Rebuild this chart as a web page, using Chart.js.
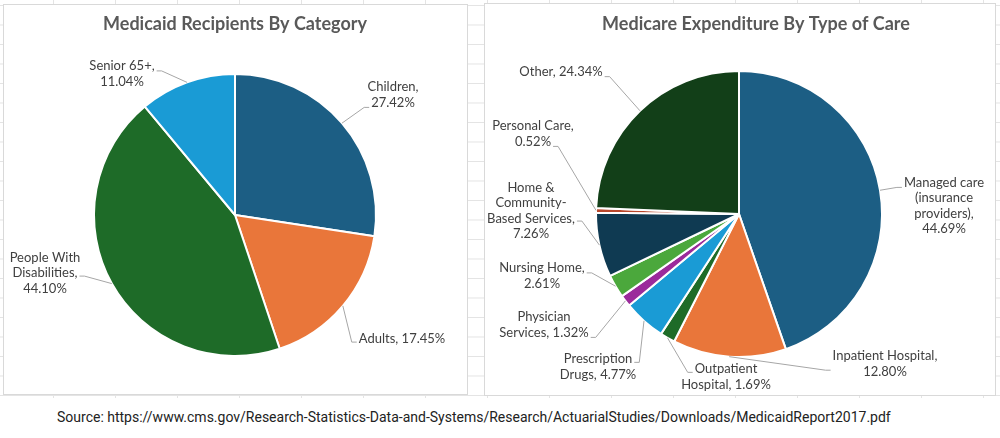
<!DOCTYPE html>
<html lang="en">
<head>
    <meta charset="UTF-8">
    <title>Medicaid Recipients / Medicare Expenditure</title>
    <script src="https://cdn.jsdelivr.net/npm/chart.js"></script>
    <style>
        body {
            margin: 0;
            width: 1000px;
            height: 438px;
            background: #fff;
            position: relative;
            overflow: hidden;
            font-family: Lato, sans-serif;
        }

        /* faint spreadsheet grid behind the two charts */
        .sheet {
            position: absolute;
            left: 0;
            top: 0;
            width: 1000px;
            height: 398px;
            background-image:
                linear-gradient(to right, #e4e4e4 1px, transparent 1px),
                linear-gradient(to bottom, #e4e4e4 1px, transparent 1px);
            background-size: 62px 19.5px;
            background-position: 53px 5px;
        }

        .panel {
            position: absolute;
            background: #fff;
            border: 1px solid #d9d9d9;
            box-sizing: border-box;
        }

        #leftPanel { left: 3px; top: 4px; width: 465px; height: 391px; }
        #rightPanel { left: 484px; top: 3px; width: 512px; height: 393px; }

        canvas { position: absolute; }
        #medicaidChart { left: 4px; top: 5px; }
        #medicareChart { left: 485px; top: 4px; }

        .source {
            position: absolute;
            top: 409px;
            left: 57px;
            font-family: Roboto, sans-serif;
            font-size: 14px;
            color: #222;
            white-space: nowrap;
        }
    </style>
</head>
<body>
    <div class="sheet"></div>
    <div class="panel" id="leftPanel"></div>
    <div class="panel" id="rightPanel"></div>
    <canvas id="medicaidChart" width="463" height="389"></canvas>
    <canvas id="medicareChart" width="510" height="390"></canvas>
    <div class="source">Source: https://www.cms.gov/Research-Statistics-Data-and-Systems/Research/ActuarialStudies/Downloads/MedicaidReport2017.pdf</div>

    <script>
        "use strict";

        // --- data: Medicaid recipients ---
        const recipientCategories = ['Children', 'Adults', 'People With Disabilities', 'Senior 65+'];
        const recipientShares = [27.42, 17.45, 44.10, 11.04];
        const recipientColors = ['#1c5e84', '#e9763a', '#1e6b28', '#1a9bd5'];

        // --- data: Medicare expenditure ---
        const careTypes = [
            'Managed care (insurance providers)', 'Inpatient Hospital', 'Outpatient Hospital',
            'Prescription Drugs', 'Physician Services', 'Nursing Home',
            'Home & Community-Based Services', 'Personal Care', 'Other'
        ];
        const careShares = [44.69, 12.80, 1.69, 4.77, 1.32, 2.61, 7.26, 0.52, 24.34];
        const careColors = ['#1c5e84', '#e9763a', '#1e6b28', '#1a9bd5', '#9b2a9b', '#4ba83c', '#0f3a52', '#b8462a', '#123f18'];

        // label layout: text lines ({v} = value), offset of the text block from the pie centre,
        // which side the leader leaves from and at which (fractional) line
        const recipientLabelLayout = [
            { lines: ['Children,', '{v}'], dx: 158, dy: -120, side: 'L', at: 1.3 },
            { lines: ['Adults, {v}'], dx: 167, dy: 124, side: 'L', at: 0.2 },
            { lines: ['People With', 'Disabilities,', '{v}'], dx: -190, dy: 58, side: 'R', at: 1.2 },
            { lines: ['Senior 65+,', '{v}'], dx: -113, dy: -141, side: 'R', at: 0.3 }
        ];
        const careLabelLayout = [
            { lines: ['Managed care', '(insurance', 'providers),', '{v}'], dx: 205, dy: -8, side: 'L', at: 0.3 },
            { lines: ['Inpatient Hospital,', '{v}'], dx: 146, dy: 150, side: 'L', at: 0.9 },
            { lines: ['Outpatient', 'Hospital, {v}'], dx: -13, dy: 163, side: 'L', at: 0.2 },
            { lines: ['Prescription', 'Drugs, {v}'], dx: -141, dy: 153, side: 'R', at: 0.2 },
            { lines: ['Physician', 'Services, {v}'], dx: -195, dy: 111, side: 'R', at: 1.3 },
            { lines: ['Nursing Home,', '{v}'], dx: -197, dy: 62, side: 'R', at: 0.3 },
            { lines: ['Home &', 'Community-', 'Based Services,', '{v}'], dx: -208, dy: -3, side: 'R', at: 2.15 },
            { lines: ['Personal Care,', '{v}'], dx: -206, dy: -80, side: 'R', at: 1.3 },
            { lines: ['Other, {v}'], dx: -178, dy: -142, side: 'R', at: 0.3 }
        ];

        // draws the chart title plus the outside labels with their leader lines
        const pieLabels = {
            id: 'pieLabels',
            afterDatasetsDraw(chart, args, opts) {
                const ctx = chart.ctx;
                const meta = chart.getDatasetMeta(0);
                const values = chart.data.datasets[0].data;
                const lh = 15.5;
                ctx.save();

                // title (Excel centres it on the plot panel, not on the pie)
                ctx.font = 'bold 18px Lato';
                ctx.fillStyle = '#595959';
                ctx.textAlign = 'center';
                ctx.textBaseline = 'middle';
                ctx.fillText(opts.title, meta.data[0].x + opts.titleDx, opts.titleY);

                ctx.font = '13px Lato';
                meta.data.forEach((arc, i) => {
                    const lay = opts.layout[i];
                    const lines = lay.lines.map(l => l.replace('{v}', values[i].toFixed(2) + '%'));
                    const cx = arc.x + lay.dx;
                    const cy = arc.y + lay.dy;
                    const top = cy - (lines.length - 1) / 2 * lh;

                    ctx.fillStyle = '#404040';
                    lines.forEach((line, k) => ctx.fillText(line, cx, top + k * lh));

                    // leader line
                    const edgeLine = lines[Math.min(Math.floor(lay.at), lines.length - 1)];
                    const w = ctx.measureText(edgeLine).width;
                    const sy = top + lay.at * lh;
                    const dir = lay.side === 'L' ? -1 : 1;
                    const sx = cx + dir * (w / 2 + 2);
                    const mid = (arc.startAngle + arc.endAngle) / 2;
                    const ex = arc.x + Math.cos(mid) * arc.outerRadius;
                    const ey = arc.y + Math.sin(mid) * arc.outerRadius;
                    ctx.strokeStyle = '#a6a6a6';
                    ctx.lineWidth = 1;
                    ctx.beginPath();
                    ctx.moveTo(sx, sy);
                    ctx.lineTo(sx + dir * 5, sy);
                    ctx.lineTo(ex, ey);
                    ctx.stroke();
                });
                ctx.restore();
            }
        };

        function drawPie(canvasId, title, labels, data, colors, layout, padding, titleY, titleDx) {
            const ctx = document.getElementById(canvasId).getContext('2d');
            return new Chart(ctx, {
                type: 'pie',
                data: {
                    labels: labels,
                    datasets: [{
                        data: data,
                        backgroundColor: colors,
                        borderColor: '#ffffff',
                        borderWidth: 2
                    }]
                },
                options: {
                    responsive: false,
                    animation: false,
                    devicePixelRatio: 1,
                    layout: { padding: padding },
                    plugins: {
                        legend: { display: false },
                        tooltip: { enabled: false },
                        title: { display: false },
                        pieLabels: { layout: layout, title: title, titleY: titleY, titleDx: titleDx }
                    }
                },
                plugins: [pieLabels]
            });
        }

        drawPie('medicaidChart', 'Medicaid Recipients By Category',
            recipientCategories, recipientShares, recipientColors, recipientLabelLayout,
            { left: 89, right: 90, top: 68, bottom: 37 }, 19.5, 0);

        drawPie('medicareChart', 'Medicare Expenditure By Type of Care',
            careTypes, careShares, careColors, careLabelLayout,
            { left: 110, right: 112, top: 66, bottom: 36 }, 20, 17);
    </script>
</body>
</html>
